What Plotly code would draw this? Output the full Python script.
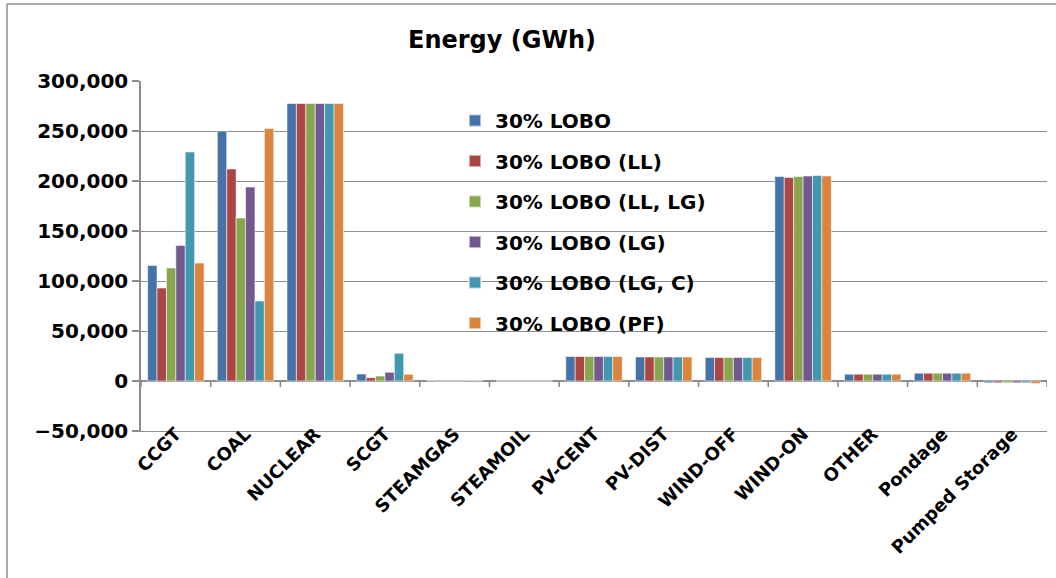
import plotly.graph_objects as go

categories = ["CCGT", "COAL", "NUCLEAR", "SCGT", "STEAMGAS", "STEAMOIL", "PV-CENT",
              "PV-DIST", "WIND-OFF", "WIND-ON", "OTHER", "Pondage", "Pumped Storage"]

series_names = ["30% LOBO", "30% LOBO (LL)", "30% LOBO (LL, LG)", "30% LOBO (LG)",
                "30% LOBO (LG, C)", "30% LOBO (PF)"]

lobo       = [115500, 250000, 277500, 7000, 500, 0, 24500, 24000, 23500, 204500, 6800, 7800, -1800]
lobo_ll    = [93000, 212000, 277500, 3300, 0, 0, 24500, 24000, 23500, 203500, 6800, 7800, -1800]
lobo_ll_lg = [113000, 163000, 277500, 5000, 0, 0, 24500, 24000, 23500, 204500, 6800, 7800, -1800]
lobo_lg    = [135500, 194000, 277500, 8700, 0, 0, 24500, 24000, 23500, 205000, 6800, 7800, -1800]
lobo_lg_c  = [229000, 80000, 277500, 27700, 600, 0, 24500, 24000, 23500, 205500, 6800, 7800, -1800]
lobo_pf    = [118000, 252500, 277500, 6700, 400, 0, 24500, 24000, 23500, 205000, 6800, 7800, -2500]

colors = ["#4572A7", "#AA4643", "#89A54E", "#71588F", "#4198AF", "#DB843D"]
y_ticks = [-50000, 0, 50000, 100000, 150000, 200000, 250000, 300000]

all_series = [lobo, lobo_ll, lobo_ll_lg, lobo_lg, lobo_lg_c, lobo_pf]

W, H = 1056, 578
L, R, T, B = 141, 9, 81, 147
FONT = "DejaVu Sans"

fig = go.Figure()
for name, vals, col in zip(series_names, all_series, colors):
    fig.add_trace(go.Bar(
        x=categories, y=vals, name=name, legendgroup=name,
        marker=dict(color=col, line=dict(color="rgba(255,255,255,0.55)", width=1)),
    ))

cat_idx = list(range(len(categories)))
# invisible helper trace so the label axis (x2) is drawn
fig.add_trace(go.Scatter(x=cat_idx, y=[0] * len(cat_idx), xaxis="x2", mode="markers",
                         marker=dict(opacity=0), showlegend=False, hoverinfo="skip"))

# category boundary tick marks hanging from the zero line
shapes = []
for i in range(len(categories) + 1):
    shapes.append(dict(type="line", xref="x", yref="y", ysizemode="pixel", yanchor=0,
                       x0=i - 0.5, x1=i - 0.5, y0=0, y1=-6,
                       line=dict(color="#878787", width=1.5)))

# outer chart border (top and left edges)
pw = W - L - R
ph = H - T - B
def px_x(px):
    return (px - L) / pw
def px_y(py):
    return (H - B - py) / ph
shapes.append(dict(type="line", xref="paper", yref="paper", x0=px_x(7), x1=px_x(W + 5),
                   y0=px_y(4), y1=px_y(4), line=dict(color="#8c8c8c", width=1.5)))
shapes.append(dict(type="line", xref="paper", yref="paper", x0=px_x(7), x1=px_x(7),
                   y0=px_y(4), y1=px_y(H + 5), line=dict(color="#8c8c8c", width=1.5)))

fig.update_layout(
    width=W, height=H,
    margin=dict(l=L, r=R, t=T, b=B, pad=0, autoexpand=False),
    paper_bgcolor="white", plot_bgcolor="white",
    barmode="group", bargap=0.19, bargroupgap=0,
    font=dict(family=FONT, color="black"),
    title=dict(text="<b>Energy (GWh)</b>", x=502 / W, xanchor="center", xref="container",
               y=1 - 40 / H, yanchor="middle", yref="container",
               font=dict(size=24, family=FONT, color="black")),
    xaxis=dict(type="category", range=[-0.5, len(categories) - 0.5], automargin=False,
               showgrid=False, showline=True, linecolor="#8c8c8c",
               linewidth=1.2, ticks="", showticklabels=False),
    xaxis2=dict(overlaying="x", anchor="free", position=12 / ph, automargin=False,
                range=[-0.5, len(categories) - 0.5], tickmode="array",
                tickvals=cat_idx, ticktext=categories, tickangle=-45,
                showgrid=False, showline=False, zeroline=False, ticks="",
                tickfont=dict(size=18, family=FONT, color="black", weight="bold")),
    yaxis=dict(range=[-50000, 300000], tickvals=y_ticks, automargin=False,
               tickformat=",d", showgrid=True, gridcolor="#8c8c8c", gridwidth=1.2,
               zeroline=True, zerolinecolor="#8c8c8c", zerolinewidth=1.5,
               showline=True, linecolor="#8c8c8c", linewidth=1.5,
               ticks="outside", ticklen=7, tickcolor="#8c8c8c", tickwidth=1.5,
               tickfont=dict(size=20, family=FONT, color="black", weight="bold")),
    legend=dict(x=px_x(455), y=px_y(101), xanchor="left", yanchor="top",
                bgcolor="rgba(0,0,0,0)", tracegroupgap=11.5, itemsizing="constant",
                font=dict(size=20, family=FONT, color="black", weight="bold")),
    shapes=shapes,
    showlegend=True,
)

fig.write_html("out.html", config={"displayModeBar": False},
               post_script="document.body.style.margin='0';document.body.style.overflow='hidden';")
